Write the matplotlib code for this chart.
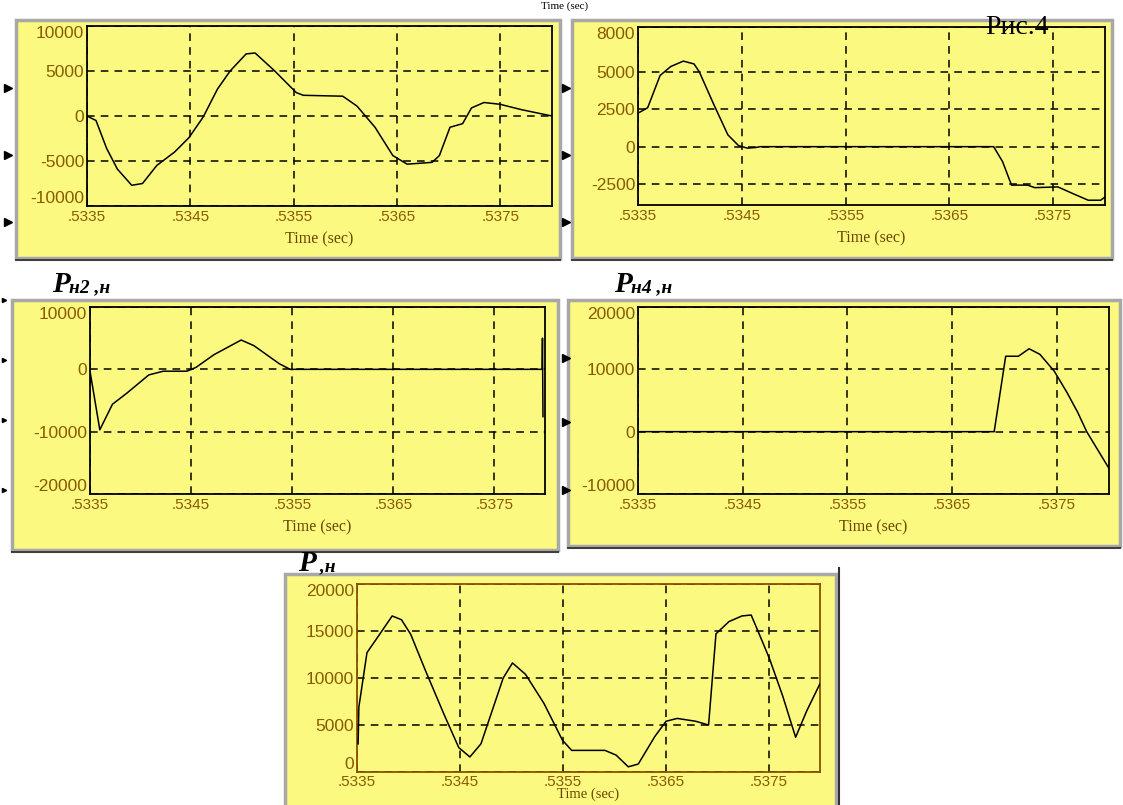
import matplotlib.pyplot as plt
from matplotlib.patches import Rectangle

# ---- data (time in s, force in N) ----
t1 = [0.53350, 0.533587, 0.53369, 0.533794, 0.533933, 0.534037, 0.534175, 0.534348,
      0.534487, 0.534625, 0.534763, 0.534885, 0.535040, 0.535127, 0.535317, 0.535525,
      0.535594, 0.535975, 0.536113, 0.536287, 0.536460, 0.536598, 0.536840, 0.536910,
      0.537013, 0.537135, 0.537221, 0.537342, 0.537498, 0.537706, 0.538000]
p1 = [0, -500, -3600, -5900, -7700, -7500, -5500, -4000,
      -2400, -100, 3000, 5000, 6900, 7000, 5000, 2600,
      2300, 2200, 1100, -1250, -4400, -5350, -5150, -4400,
      -1250, -850, 900, 1500, 1300, 700, 0]

t3 = [0.53350, 0.533593, 0.533713, 0.533816, 0.533937, 0.534040, 0.534091, 0.534229,
      0.534366, 0.534469, 0.534555, 0.534641, 0.534676, 0.536927, 0.537013, 0.537099,
      0.537254, 0.537323, 0.537546, 0.537701, 0.537838, 0.537959, 0.537993]
p3 = [2240, 2600, 4760, 5360, 5720, 5530, 5000, 2840,
      790, 70, -100, -50, 0, 0, -1000, -2570,
      -2570, -2740, -2690, -3170, -3580, -3580, -3400]

t2 = [0.53350, 0.533597, 0.533722, 0.533866, 0.534081, 0.534224, 0.534457, 0.534547,
      0.534726, 0.534995, 0.535121, 0.535372, 0.535479, 0.537971, 0.537975, 0.537980]
p2 = [-300, -9700, -5600, -3800, -900, -300, -300, 300,
      2350, 4700, 3800, 900, 0, 0, 5000, -7600]

t4 = [0.53350, 0.536903, 0.537013, 0.537134, 0.537237, 0.537340, 0.537477, 0.537598,
      0.537701, 0.537787, 0.538000]
p4 = [0, 0, 12100, 12100, 13300, 12400, 9700, 6300,
      3100, 0, -5900]

t_sum = [0.533511, 0.533518, 0.533597, 0.533698, 0.533842, 0.533932, 0.534022, 0.534165,
         0.534345, 0.534489, 0.534597, 0.534705, 0.534921, 0.535011, 0.535137, 0.535317,
         0.535496, 0.535586, 0.535910, 0.536018, 0.536137, 0.536234, 0.536396, 0.536504,
         0.536612, 0.536791, 0.536917, 0.536989, 0.537115, 0.537241, 0.537331, 0.537439,
         0.537511, 0.537637, 0.537763, 0.537871, 0.538000]
p_sum = [3000, 6900, 12700, 14300, 16600, 16200, 14650, 10800,
         6150, 2600, 1600, 3000, 10000, 11600, 10400, 7300,
         3400, 2300, 2300, 1800, 550, 850, 3800, 5400,
         5700, 5400, 5000, 14700, 16000, 16600, 16700, 13900,
         12000, 8100, 3700, 6500, 9400]

x_ticks = [0.5335, 0.5345, 0.5355, 0.5365, 0.5375]
x_labels = ['.5335', '.5345', '.5355', '.5365', '.5375']

W, H = 1123, 805
YEL = '#FCF980'
TXT = '#8A5A00'

fig = plt.figure(figsize=(W / 100, H / 100), dpi=100)
fig.patch.set_facecolor('white')


def rect(l, t, r, b):
    return [l / W, 1 - b / H, (r - l) / W, (b - t) / H]


def frame(l, t, r, b):
    fig.patches.append(Rectangle((l / W, 1 - b / H), (r - l) / W, (b - t) / H,
                                 transform=fig.transFigure, facecolor=YEL,
                                 edgecolor='#A8A8A8', lw=2.5, zorder=-5))
    # darker bevel at bottom
    fig.add_artist(plt.Line2D([l / W, r / W], [1 - (b + 2) / H, 1 - (b + 2) / H],
                              transform=fig.transFigure, color='#404040', lw=1.5,
                              zorder=-4))


def scope(box, t, p, ylim, yticks, spine='black', labelpad=5, xlabsize=11.5, xpad=3):
    ax = fig.add_axes(rect(*box))
    ax.set_facecolor(YEL)
    ax.plot(t, p, color='black', lw=1.1, zorder=3)
    ax.set_xlim(0.5335, 0.5380)
    ax.set_ylim(*ylim)
    ax.set_xticks(x_ticks)
    ax.set_xticklabels(x_labels)
    ax.set_yticks(yticks)
    ax.set_yticklabels([str(v) for v in yticks])
    ax.tick_params(length=0, labelcolor=TXT)
    ax.tick_params(axis='x', labelsize=11, pad=xpad)
    ax.tick_params(axis='y', labelsize=12.5, pad=2)
    for lab in ax.get_xticklabels() + ax.get_yticklabels():
        lab.set_family('Liberation Sans')
    # keep the end labels inside the axis height, as the scope does
    ylabs = ax.get_yticklabels()
    if yticks[0] == ylim[0]:
        ylabs[0].set_va('bottom')
    if yticks[-1] == ylim[1]:
        ylabs[-1].set_va('top')
    ax.grid(True, color='black', ls=(0, (5, 4)), lw=1.1)
    for s in ax.spines.values():
        s.set_color(spine)
        s.set_linewidth(1.3)
    ax.set_xlabel('Time (sec)', family='Liberation Serif', fontsize=xlabsize,
                  color='#6B4400', labelpad=labelpad)
    return ax


# yellow scope windows
frame(16, 20, 560, 258)
frame(572, 20, 1112, 258)
frame(12, 300, 558, 550)
frame(568, 300, 1120, 546)
frame(285, 574, 836, 807)

scope((87, 26, 552, 206), t1, p1, (-10000, 10000), [-10000, -5000, 0, 5000, 10000])
scope((638, 27, 1105, 205), t3, p3, (-3900, 8000), [-2500, 0, 2500, 5000, 8000])
scope((90, 307, 545, 494), t2, p2, (-20000, 10000), [-20000, -10000, 0, 10000])
scope((638, 307, 1109, 494), t4, p4, (-10000, 20000), [-10000, 0, 10000, 20000])
scope((357, 584, 820, 772), t_sum, p_sum, (0, 20000), [0, 5000, 10000, 15000, 20000],
      spine='#8A5000', labelpad=-1, xlabsize=10.5, xpad=2)

# dark edge line to the right of the bottom scope
fig.add_artist(plt.Line2D([839 / W, 839 / W], [1 - 568 / H, 0], transform=fig.transFigure,
                          color='#303030', lw=1.5))


# panel captions
def caption(x, y, sub):
    fig.text(x / W, 1 - y / H, 'P', family='Liberation Serif', weight='bold',
             style='italic', fontsize=21, va='baseline')
    fig.text((x + 17) / W, 1 - y / H, sub, family='Liberation Serif', weight='bold',
             style='italic', fontsize=14, va='baseline')


caption(52, 292, 'н2 ,н')
caption(614, 292, 'н4 ,н')
caption(298, 571, ' ,н')

fig.text(1017 / W, 1 - 27 / H, 'Рис.4', family='Liberation Serif', fontsize=20,
         ha='center', va='center')
fig.text(565 / W, 1 - 6 / H, 'Time (sec)', family='Liberation Serif', fontsize=8,
         ha='center', va='center')

# port arrows of the block diagram behind the scopes
for x, ys in [(8, [88, 155, 222]), (566, [88, 155, 222]), (566, [358, 422, 490]),
              (4, [300, 360, 420, 490])]:
    for y in ys:
        fig.add_artist(plt.Line2D([x / W], [1 - y / H], transform=fig.transFigure,
                                  marker='>', color='black', ms=6 if x > 5 else 3))

plt.savefig('out.png', dpi=100)
